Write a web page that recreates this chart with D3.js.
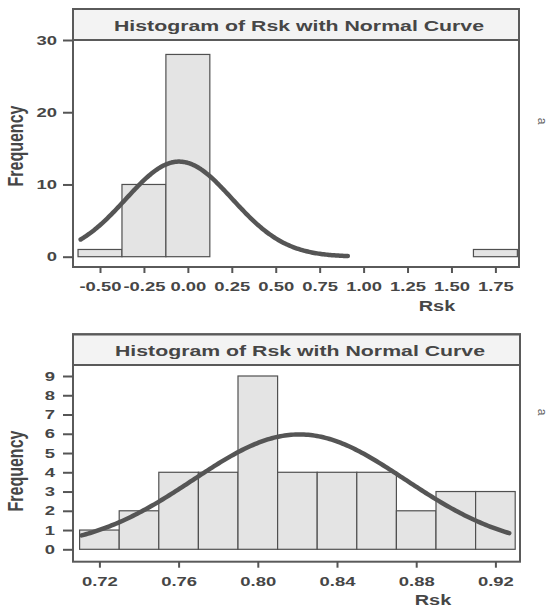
<!DOCTYPE html>
<html><head><meta charset="utf-8">
<script src="https://cdn.jsdelivr.net/npm/d3@7"></script>
<style>
html,body{margin:0;padding:0;background:#fff;}
svg{display:block;font-family:"Liberation Sans",Arial,sans-serif;}
</style></head>
<body><svg id="c" width="551" height="608"></svg>
<script>
// ---------- data ----------
const titleText = "Histogram of Rsk with Normal Curve";
const xLabel = "Rsk";
const yLabel = "Frequency";

// Panel 1
const binCenters1 = [-0.5, -0.25, 0.0, 1.75];
const counts1 = [1, 10, 28, 1];
const binWidth1 = 0.25;
const xTicks1 = [-0.5, -0.25, 0, 0.25, 0.5, 0.75, 1.0, 1.25, 1.5, 1.75];
const yTicks1 = [0, 10, 20, 30];
const curveMean1 = -0.05, curveSd1 = 0.303, curveFrom1 = -0.61, curveTo1 = 0.91;

// Panel 2
const binCenters2 = [0.72, 0.74, 0.76, 0.78, 0.80, 0.82, 0.84, 0.86, 0.88, 0.90, 0.92];
const counts2 = [1, 2, 4, 4, 9, 4, 4, 4, 2, 3, 3];
const binWidth2 = 0.02;
const xTicks2 = [0.72, 0.76, 0.80, 0.84, 0.88, 0.92];
const yTicks2 = [0, 1, 2, 3, 4, 5, 6, 7, 8, 9];
const curveMean2 = 0.821, curveSd2 = 0.0535, curveFrom2 = 0.711, curveTo2 = 0.927;

// ---------- drawing ----------
const svg = d3.select("#c");
const TXT = "#464646";
const STRETCH = 1.42;

function panel(cfg) {
  const g = svg.append("g");
  const x = d3.scaleLinear().domain(cfg.xDom).range(cfg.xRng);
  const y = d3.scaleLinear().domain(cfg.yDom).range(cfg.yRng);

  g.append("rect").attr("x", cfg.left).attr("y", cfg.top)
    .attr("width", cfg.right - cfg.left).attr("height", cfg.bottom - cfg.top)
    .attr("fill", "#fff");

  // bars
  const n = d3.sum(cfg.counts);
  g.append("g").selectAll("rect").data(cfg.centers).join("rect")
    .attr("x", (d) => x(d - cfg.bw / 2))
    .attr("width", (d) => x(d + cfg.bw / 2) - x(d - cfg.bw / 2))
    .attr("y", (d, i) => y(cfg.counts[i]))
    .attr("height", (d, i) => y(0) - y(cfg.counts[i]))
    .attr("fill", "#e4e4e4").attr("stroke", "#505050").attr("stroke-width", 1.2);

  // normal curve
  const pts = d3.range(0, 201).map(k => {
    const v = cfg.cFrom + (cfg.cTo - cfg.cFrom) * k / 200;
    const z = (v - cfg.mean) / cfg.sd;
    return [v, n * cfg.bw * Math.exp(-0.5 * z * z) / (cfg.sd * Math.sqrt(2 * Math.PI))];
  });
  g.append("path").datum(pts)
    .attr("d", d3.line().x(d => x(d[0])).y(d => y(d[1])))
    .attr("fill", "none").attr("stroke", "#555").attr("stroke-width", 4.5)
    .attr("stroke-linecap", "round").attr("stroke-linejoin", "round");

  // title strip
  g.append("rect").attr("x", cfg.left).attr("y", cfg.top)
    .attr("width", cfg.right - cfg.left).attr("height", cfg.strip - cfg.top)
    .attr("fill", "#f3f3f3").attr("stroke", "#5a5a5a").attr("stroke-width", 2);
  g.append("text").attr("x", cfg.titleX).attr("y", cfg.strip - 9.5)
    .attr("text-anchor", "middle").attr("font-weight", "bold").attr("font-size", 15.5)
    .attr("fill", TXT).attr("textLength", 370).attr("lengthAdjust", "spacingAndGlyphs")
    .text(titleText);

  // frame
  g.append("rect").attr("x", cfg.left).attr("y", cfg.top)
    .attr("width", cfg.right - cfg.left).attr("height", cfg.bottom - cfg.top)
    .attr("fill", "none").attr("stroke", "#5a5a5a").attr("stroke-width", 2);

  // x axis
  const xa = g.append("g").attr("transform", `translate(0,${cfg.bottom})`)
    .call(d3.axisBottom(x).tickValues(cfg.xTicks).tickFormat(d => d.toFixed(2))
      .tickSize(6).tickSizeOuter(0).tickPadding(9));
  xa.select(".domain").remove();
  xa.selectAll("line").attr("stroke", "#555").attr("stroke-width", 2);
  xa.selectAll("text").attr("font-size", 13).attr("font-weight", "bold")
    .attr("fill", TXT).attr("font-family", "Liberation Sans, Arial, sans-serif")
    .attr("transform", `scale(${STRETCH},1)`);

  // y axis
  const ya = g.append("g").attr("transform", `translate(${cfg.left},0)`)
    .call(d3.axisLeft(y).tickValues(cfg.yTicks).tickSize(10).tickSizeOuter(0));
  ya.select(".domain").remove();
  ya.selectAll("line").attr("stroke", "#555").attr("stroke-width", 2);
  ya.selectAll("text").attr("x", 0).attr("font-size", 13).attr("font-weight", "bold")
    .attr("fill", TXT).attr("font-family", "Liberation Sans, Arial, sans-serif")
    .attr("transform", `translate(${-cfg.yLabPad},0) scale(${STRETCH},1)`);

  // axis titles
  g.append("text").attr("transform", `translate(${cfg.rskX},${cfg.rskY}) scale(${STRETCH},1)`)
    .attr("text-anchor", "middle").attr("font-weight", "bold").attr("font-size", 14)
    .attr("fill", TXT).text(xLabel);
  g.append("text").attr("transform", `translate(${cfg.freqX},${cfg.freqY}) rotate(-90) scale(1,${STRETCH})`)
    .attr("text-anchor", "middle").attr("font-weight", "bold").attr("font-size", 16)
    .attr("fill", TXT).text(yLabel);

  // scan margin letter
  g.append("text").attr("transform", `translate(${cfg.aX},${cfg.aY}) rotate(90)`)
    .attr("text-anchor", "middle").attr("font-size", 12).attr("fill", "#666").text("a");
}

panel({
  top: 9, strip: 40, bottom: 267, left: 73, right: 519, titleX: 299,
  xDom: [-0.5, 1.75], xRng: [100, 495.4],
  yDom: [0, 30], yRng: [256.7, 40],
  centers: binCenters1, counts: counts1, bw: binWidth1,
  xTicks: xTicks1, yTicks: yTicks1,
  mean: curveMean1, sd: curveSd1, cFrom: curveFrom1, cTo: curveTo1,
  yLabPad: 16, rskX: 437, rskY: 311, freqX: 23, freqY: 146, aX: 538, aY: 121
});

panel({
  top: 334.3, strip: 365, bottom: 561.7, left: 73, right: 520, titleX: 300,
  xDom: [0.72, 0.92], xRng: [99.4, 495.4],
  yDom: [0, 9], yRng: [549.3, 376],
  centers: binCenters2, counts: counts2, bw: binWidth2,
  xTicks: xTicks2, yTicks: yTicks2,
  mean: curveMean2, sd: curveSd2, cFrom: curveFrom2, cTo: curveTo2,
  yLabPad: 18, rskX: 433, rskY: 605, freqX: 23, freqY: 471, aX: 538, aY: 412
});
</script>
</body></html>
